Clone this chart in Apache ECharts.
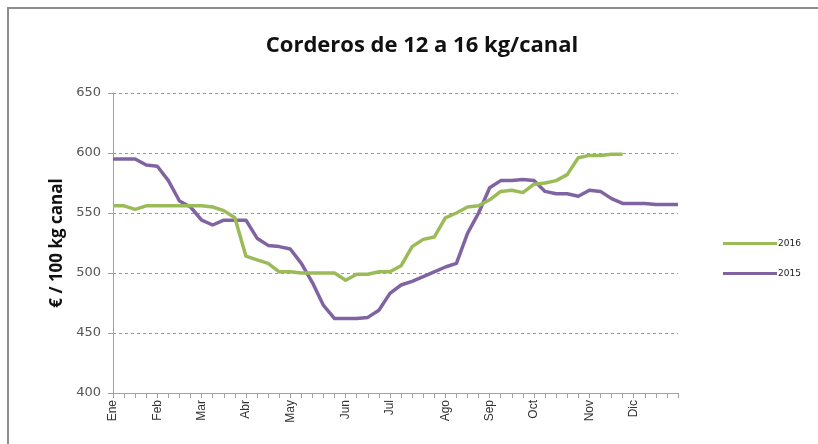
<!DOCTYPE html>
<html>
<head>
<meta charset="utf-8">
<script src="https://cdn.jsdelivr.net/npm/echarts@6/dist/echarts.min.js"></script>
<style>
  html, body { margin: 0; padding: 0; background: #fff; }
  #chart { width: 818px; height: 444px; }
</style>
</head>
<body>
<div id="chart"></div>
<script>
// semanas del año, con el nombre del mes solo en la primera semana de cada mes
const weeks = []
for (let i = 0; i < 52; i++) weeks.push('')
const monthLabels = ['Ene', 'Feb', 'Mar', 'Abr', 'May', 'Jun', 'Jul', 'Ago', 'Sep', 'Oct', 'Nov', 'Dic']
const monthWeek = [0, 4, 8, 12, 16, 21, 25, 30, 34, 38, 43, 47]
monthWeek.forEach((w, i) => { weeks[w] = monthLabels[i] })

const yTicks = [400, 450, 500, 550, 600, 650]

// 2016 (hasta la semana 47)
const data2016 = [
    556, 556, 553, 556, 556, 556, 556, 556, 556, 555,
    552, 546, 514, 511, 508, 501, 501, 500, 500, 500,
    500, 494, 499, 499, 501, 501, 506, 522, 528, 530,
    546, 550, 555, 556, 561, 568, 569, 567, 574, 575,
    577, 582, 596, 598, 598, 599, 599
]

// 2015
const data2015 = [
    595, 595, 595, 590, 589, 577, 560, 555, 544, 540,
    544, 544, 544, 529, 523, 522, 520, 508, 492, 473,
    462, 462, 462, 463, 469, 483, 490, 493, 497, 501,
    505, 508, 533, 550, 571, 577, 577, 578, 577, 568,
    566, 566, 564, 569, 568, 562, 558, 558, 558, 557,
    557, 557
]

const myChart = echarts.init(document.querySelector('#chart'))
const option = {
    animation: false,
    backgroundColor: '#fff',
    graphic: [
        {
            type: 'rect',
            shape: { x: 8, y: 8, width: 830, height: 460 },
            style: { fill: 'none', stroke: '#8c8c8c', lineWidth: 2 },
            silent: true
        }
    ],
    title: {
        text: 'Corderos de 12 a 16 kg/canal',
        left: 417,
        textAlign: 'center',
        top: 30,
        textStyle: {
            fontFamily: 'Open Sans',
            fontSize: 22,
            fontWeight: 'bold',
            color: '#111'
        }
    },
    legend: {
        orient: 'vertical',
        left: 718,
        top: 234,
        icon: 'rect',
        itemWidth: 54,
        itemHeight: 3,
        itemGap: 21,
        data: ['2016', '2015'],
        textStyle: {
            fontFamily: 'DejaVu Sans',
            fontSize: 9,
            color: '#222',
            padding: [0, 0, 0, -4]
        }
    },
    grid: {
        left: 113,
        right: 140,
        top: 93,
        bottom: 51
    },
    xAxis: {
        type: 'category',
        data: weeks,
        boundaryGap: false,
        axisLine: { lineStyle: { color: '#a0a0a0', width: 1 } },
        axisTick: {
            show: true,
            interval: 0,
            length: 5,
            lineStyle: { color: '#a0a0a0' }
        },
        axisLabel: {
            interval: 0,
            rotate: 90,
            margin: 7,
            fontFamily: 'Liberation Sans',
            fontSize: 12,
            color: '#333'
        },
        splitLine: { show: false }
    },
    yAxis: {
        type: 'value',
        min: yTicks[0],
        max: yTicks[yTicks.length - 1],
        interval: 50,
        name: '€ / 100 kg canal',
        nameLocation: 'middle',
        nameGap: 47,
        nameTextStyle: {
            fontFamily: 'Open Sans',
            fontSize: 17,
            fontWeight: 'bold',
            color: '#111'
        },
        axisLine: { show: true, lineStyle: { color: '#a0a0a0', width: 1 } },
        axisTick: { show: true, inside: false, length: 5, lineStyle: { color: '#a0a0a0' } },
        axisLabel: {
            margin: 12,
            fontFamily: 'DejaVu Sans',
            fontSize: 13,
            color: '#555'
        },
        splitLine: {
            lineStyle: { type: [3, 3], color: '#999', width: 1 }
        }
    },
    series: [
        {
            name: '2016',
            type: 'line',
            data: data2016,
            symbol: 'none',
            lineStyle: { width: 3.5, color: '#9bbb59', join: 'round' },
            itemStyle: { color: '#9bbb59' },
            z: 3
        },
        {
            name: '2015',
            type: 'line',
            data: data2015,
            symbol: 'none',
            lineStyle: { width: 3.5, color: '#8064a2', join: 'round' },
            itemStyle: { color: '#8064a2' },
            z: 2
        }
    ]
}
myChart.setOption(option)
</script>
</body>
</html>
